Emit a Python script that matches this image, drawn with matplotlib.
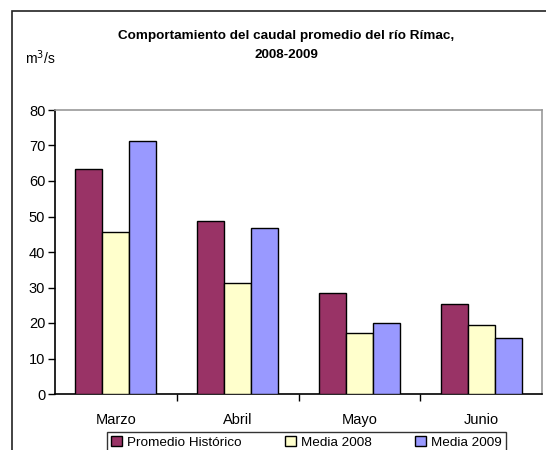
import matplotlib
matplotlib.use("Agg")
import matplotlib.pyplot as plt
import numpy as np
from matplotlib.patches import Rectangle, Patch

plt.rcParams['font.family'] = ['Liberation Sans', 'DejaVu Sans']

# Data
months = ["Marzo", "Abril", "Mayo", "Junio"]
promedio_historico = [63.4, 48.8, 28.5, 25.4]
media_2008 = [45.6, 31.2, 17.1, 19.4]
media_2009 = [71.3, 46.7, 19.9, 15.9]
series_names = ["Promedio Histórico", "Media 2008", "Media 2009"]
colors = ["#993366", "#FFFFCC", "#9999FF"]

W, H = 546, 450
fig = plt.figure(figsize=(W / 100, H / 100), dpi=100)

# outer frame of the chart object
fig.patches.append(Rectangle((12 / W, -0.1), 1.2, (H - 11) / H + 0.1,
                             transform=fig.transFigure, fill=False,
                             edgecolor="#222222", linewidth=1.2))

ax = fig.add_axes([55 / W, (H - 394) / H, (542 - 55) / W, (394 - 110) / H])

x = np.arange(len(months))
bw = 0.222
for i, vals in enumerate([promedio_historico, media_2008, media_2009]):
    ax.bar(x + (i - 1) * bw, vals, width=bw, color=colors[i],
           edgecolor="black", linewidth=1.0, label=series_names[i], zorder=3)

ax.set_xlim(-0.5, len(months) - 0.5)
ax.set_ylim(0, 80)
ax.set_yticks(range(0, 81, 10))
ax.set_xticks(x)
ax.set_xticklabels(months)
ax.set_xticks(np.arange(0.5, len(months) - 0.5), minor=True)
ax.tick_params(axis="x", which="major", length=0, pad=14, labelsize=10.5)
ax.tick_params(axis="x", which="minor", length=5, width=1, direction="out")
ax.tick_params(axis="y", length=5, width=1, direction="out", labelsize=10.5, pad=2)

for s in ["left", "bottom"]:
    ax.spines[s].set_color("black")
    ax.spines[s].set_linewidth(1.2)
for s in ["top", "right"]:
    ax.spines[s].set_color("#999999")
    ax.spines[s].set_linewidth(1.2)

fig.text(286 / W, 1 - 36 / H, "Comportamiento del caudal promedio del río Rímac,",
         ha="center", va="center", fontsize=9.7, fontweight="bold")
fig.text(286 / W, 1 - 55 / H, "2008-2009",
         ha="center", va="center", fontsize=9.7, fontweight="bold")
fig.text(25 / W, 1 - 58 / H, "m$^3$/s", ha="left", va="center", fontsize=10)

handles = [Patch(facecolor=c, edgecolor="black", linewidth=1) for c in colors]
leg = fig.legend(handles, series_names, loc="upper left",
                 bbox_to_anchor=(107 / W, 1 - 432 / H), ncol=3, fontsize=9.7,
                 frameon=True, fancybox=False, edgecolor="black",
                 handlelength=0.8, handleheight=0.8, handletextpad=0.4,
                 columnspacing=3.2, borderpad=0.3, borderaxespad=0)
leg.get_frame().set_linewidth(1)

fig.savefig("out.png", dpi=100)
